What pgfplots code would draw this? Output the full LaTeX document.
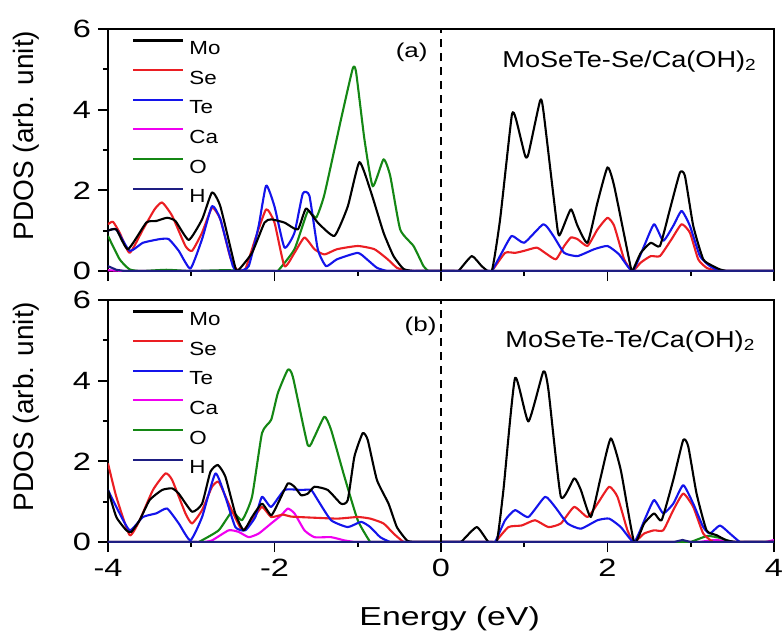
\documentclass[border=0pt]{standalone}
\usepackage{fontspec}
\setmainfont{Liberation Sans}
\newfontfamily\wideA{Liberation Sans}[FakeStretch=1.3]
\newfontfamily\wideB{Liberation Sans}[FakeStretch=1.18]
\usepackage{pgfplots}
\pgfplotsset{compat=1.18}

\definecolor{cMo}{RGB}{0,0,0}
\definecolor{cSe}{RGB}{235,30,35}
\definecolor{cTe}{RGB}{20,20,235}
\definecolor{cCa}{RGB}{240,0,240}
\definecolor{cO}{RGB}{20,135,20}
\definecolor{cH}{RGB}{30,30,130}

\newcommand{\sz}[1]{\fontsize{#1}{#1}\selectfont}

\pgfplotsset{
  pdos/.style={
    scale only axis, width=333pt, height=121pt,
    xmin=-4, xmax=4, ymin=0, ymax=6,
    xtick={-4,-2,0,2,4}, minor xtick={-3,-1,1,3},
    ytick={0,2,4,6}, minor ytick={1,3,5},
    tick pos=left, tick align=outside,
    major tick length=5pt, minor tick length=2.5pt,
    every tick/.style={black, line width=0.9pt},
    axis line style={line width=0.9pt},
    tick label style={font=\wideA\sz{12.5}},
    /pgf/number format/assume math mode=true,
    ylabel={PDOS (arb. unit)},
    ylabel style={at={(axis description cs:-0.122,0.56)}, anchor=center, font=\sz{14}},
    legend style={draw=none, fill=none, inner sep=0pt,
      at={(axis description cs:0.036,1)}, anchor=north west, yshift=-5pt,
      font=\wideB\sz{9.5}, row sep=4.9pt, column sep=2.5pt,
      nodes={inner sep=0pt, text height=6.8pt, text depth=2.4pt}},
    legend cell align=left,
    legend image code/.code={\draw[##1] (0pt,4.8pt) -- (25pt,4.8pt);},
    every axis plot/.append style={line width=1.05pt, line join=round, smooth, tension=0.3},
  },
}

\begin{document}
\begin{tikzpicture}
\useasboundingbox (-54pt,-48.5pt) rectangle (337.5pt,271pt);

% (a) MoSeTe-Se/Ca(OH)2
\begin{axis}[pdos, at={(0pt,135.5pt)}, anchor=south west, xticklabels={}]
\addlegendimage{cMo, line width=1.05pt}\addlegendentry{Mo}
\addlegendimage{cSe, line width=1.05pt}\addlegendentry{Se}
\addlegendimage{cTe, line width=1.05pt}\addlegendentry{Te}
\addlegendimage{cCa, line width=1.05pt}\addlegendentry{Ca}
\addlegendimage{cO, line width=1.05pt}\addlegendentry{O}
\addlegendimage{cH, line width=1.05pt}\addlegendentry{H}

\addplot[cCa, sharp plot, forget plot] coordinates {(-4,0.02) (-3.8,0) (4,0) };
\addplot[cO, forget plot] coordinates {
(-4,0.87)(-3.86,0.29)(-3.74,0.04)(-3.6,0)(-3.3,0.03)(-3.0,0)(-2.6,0.02)(-2.2,0)(-2.0,0)(-1.96,0)
(-1.76,0.54)(-1.6,1.48)(-1.5,1.32)(-1.4,1.9)(-1.2,3.77)(-1.06,5.02)(-1.02,4.93)(-0.92,3.27)
(-0.82,2.1)(-0.69,2.77)(-0.61,2.36)(-0.49,1.03)(-0.33,0.62)(-0.21,0.12)(-0.15,0)(-0.1,0)(0,0)(4,0)};
\addplot[cSe, forget plot] coordinates {
(-4,1.16)(-3.94,1.22)(-3.86,0.95)(-3.74,0.45)(-3.58,1.03)(-3.44,1.53)(-3.35,1.7)(-3.23,1.37)
(-3.07,0.62)(-2.99,0.5)(-2.87,0.95)(-2.75,1.57)(-2.65,1.28)(-2.53,0.33)(-2.45,0.03)(-2.35,0.05)
(-2.23,0.8)(-2.1,1.53)(-2.0,1.2)(-1.88,0.12)(-1.76,0.45)(-1.64,0.83)(-1.52,0.54)(-1.4,0.41)
(-1.25,0.54)(-1.0,0.62)(-0.8,0.54)(-0.64,0.29)(-0.53,0.08)(-0.41,0)(-0.36,0)(0.56,0)(0.61,0)(0.77,0.45)
(0.89,0.45)(1.0,0.5)(1.15,0.58)(1.25,0.45)(1.38,0.29)(1.48,0.62)(1.56,0.83)(1.64,0.79)
(1.76,0.62)(1.88,1.03)(2.0,1.32)(2.08,1.12)(2.2,0.29)(2.3,0)(2.4,0.21)(2.52,0.37)(2.63,0.37)
(2.77,0.79)(2.89,1.16)(2.99,0.95)(3.09,0.29)(3.19,0.08)(3.31,0)(3.36,0)(4,0)};
\addplot[cTe, forget plot] coordinates {
(-4,1.0)(-3.9,1.03)(-3.74,0.5)(-3.58,0.7)(-3.38,0.79)(-3.27,0.79)(-3.15,0.5)(-3.01,0.06)
(-2.87,0.79)(-2.75,1.61)(-2.65,1.28)(-2.5,0.12)(-2.43,0)(-2.31,0.12)(-2.19,1.12)(-2.1,2.12)
(-2.0,1.6)(-1.88,0.58)(-1.76,0.95)(-1.66,1.92)(-1.58,1.86)(-1.48,0.54)(-1.38,0.12)(-1.25,0.29)
(-1.0,0.45)(-0.89,0.29)(-0.77,0.08)(-0.65,0)(-0.6,0)(0.56,0)(0.61,0)(0.73,0.45)(0.85,0.87)(1.0,0.7)(1.23,1.16)
(1.35,0.87)(1.48,0.45)(1.64,0.37)(1.84,0.54)(2.0,0.62)(2.14,0.41)(2.3,0)(2.44,0.62)(2.56,1.16)
(2.67,0.75)(2.79,1.12)(2.89,1.49)(2.99,1.12)(3.11,0.37)(3.23,0.12)(3.35,0)(3.4,0)(4,0)};
\addplot[cMo, forget plot] coordinates {
(-4,1.0)(-3.9,1.03)(-3.76,0.54)(-3.54,1.2)(-3.42,1.24)(-3.29,1.32)(-3.19,1.24)(-3.03,0.77)
(-2.87,1.28)(-2.75,1.95)(-2.65,1.6)(-2.47,0.08)(-2.43,0.03)(-2.27,0.45)(-2.12,1.2)(-2.04,1.28)
(-1.88,1.2)(-1.72,1.03)(-1.62,1.55)(-1.48,1.2)(-1.28,0.87)(-1.12,1.6)(-0.98,2.7)(-0.84,1.95)
(-0.69,0.95)(-0.57,0.37)(-0.45,0.05)(-0.33,0)(-0.28,0)(0.16,0)(0.21,0)(0.37,0.37)(0.49,0.12)(0.61,0)(0.71,1.28)
(0.85,3.85)(0.9,3.77)(1.01,2.86)(1.05,2.9)(1.19,4.22)(1.23,3.97)(1.4,1.03)(1.44,0.95)(1.56,1.53)
(1.64,1.12)(1.76,0.7)(1.88,1.7)(2.0,2.57)(2.08,2.11)(2.28,0.08)(2.3,0)(2.4,0.45)(2.52,0.7)
(2.63,0.62)(2.75,1.53)(2.87,2.44)(2.93,2.36)(3.03,1.12)(3.15,0.29)(3.27,0.12)(3.35,0.04)(3.43,0)(3.48,0)(4,0)};
\addplot[cH, sharp plot, forget plot] coordinates {(-4,0.12)(-3.9,0.03)(-3.8,0)(4,0)};
\addplot[black, sharp plot, line width=0.6pt, dash pattern=on 4pt off 3pt, forget plot] coordinates {(0,0)(0,6)};

\node[anchor=base east, inner sep=0pt, font=\wideA\sz{10}] at (axis cs:-0.156,5.3) {(a)};
\node[anchor=base west, inner sep=0pt, font=\wideB\sz{11.5}] at (axis cs:0.733,5.05) {MoSeTe-Se/Ca(OH)\textsubscript{2}};
\end{axis}

% (b) MoSeTe-Te/Ca(OH)2
\begin{axis}[pdos, at={(0pt,0pt)}, anchor=south west,
  xlabel={Energy (eV)},
  xlabel style={at={(axis description cs:0.513,-0.343)}, anchor=base, font=\wideA\sz{13}}]
\addlegendimage{cMo, line width=1.05pt}\addlegendentry{Mo}
\addlegendimage{cSe, line width=1.05pt}\addlegendentry{Se}
\addlegendimage{cTe, line width=1.05pt}\addlegendentry{Te}
\addlegendimage{cCa, line width=1.05pt}\addlegendentry{Ca}
\addlegendimage{cO, line width=1.05pt}\addlegendentry{O}
\addlegendimage{cH, line width=1.05pt}\addlegendentry{H}

\addplot[cCa, forget plot] coordinates {
(-4,0)(-2.9,0)(-2.85,0)(-2.75,0.04)(-2.55,0.29)(-2.43,0.25)(-2.31,0.12)(-2.19,0.21)(-2.04,0.46)
(-1.92,0.66)(-1.84,0.83)(-1.76,0.71)(-1.64,0.29)(-1.52,0.12)(-1.32,0.12)(-1.16,0.04)(-1.04,0)(-0.99,0)
(3.05,0)(3.1,0)(3.3,0.05)(3.5,0)(3.55,0)(3.85,0)(3.9,0)(4,0.05)};
\addplot[cO, forget plot] coordinates {
(-4,0)(-2.96,0)(-2.91,0)(-2.67,0.29)(-2.51,0.75)(-2.39,0.54)(-2.27,1.12)(-2.15,2.7)(-2.04,3.03)
(-1.96,3.69)(-1.84,4.27)(-1.78,4.1)(-1.6,2.4)(-1.52,2.61)(-1.4,3.11)(-1.32,2.78)(-1.16,1.62)
(-1.0,0.54)(-0.85,0)(-0.8,0)(2.95,0)(3.0,0)(3.2,0.15)(3.35,0.1)(3.5,0)(3.55,0)(4,0)};
\addplot[cSe, forget plot] coordinates {
(-4,1.95)(-3.9,1.12)(-3.74,0.17)(-3.62,0.54)(-3.46,1.29)(-3.31,1.7)(-3.23,1.54)(-3.07,0.71)
(-2.99,0.46)(-2.87,0.79)(-2.75,1.37)(-2.67,1.49)(-2.55,0.95)(-2.39,0.29)(-2.27,0.54)(-2.15,0.87)
(-2.04,0.62)(-1.9,0.68)(-1.8,0.63)(-1.5,0.6)(-1.24,0.58)(-1.0,0.62)(-0.85,0.58)(-0.69,0.46)
(-0.57,0.21)(-0.45,0)(-0.4,0)(0.6,0)(0.65,0)(0.81,0.37)(0.97,0.41)(1.13,0.54)(1.29,0.37)(1.44,0.46)(1.6,0.87)
(1.76,0.62)(1.88,0.95)(2.02,1.37)(2.12,1.12)(2.24,0.29)(2.32,0)(2.44,0.21)(2.56,0.29)(2.67,0.29)
(2.79,0.79)(2.91,1.2)(3.03,0.87)(3.15,0.21)(3.27,0)(3.32,0)(4,0)};
\addplot[cTe, forget plot] coordinates {
(-4,1.29)(-3.9,0.87)(-3.74,0.29)(-3.58,0.62)(-3.42,0.71)(-3.29,0.83)(-3.15,0.46)(-3.01,0.04)
(-2.87,0.62)(-2.71,1.7)(-2.59,1.12)(-2.47,0.37)(-2.35,0.29)(-2.23,0.62)(-2.15,1.12)(-2.04,0.87)
(-1.88,1.29)(-1.68,1.29)(-1.56,1.29)(-1.48,1.04)(-1.32,0.54)(-1.12,0.37)(-0.96,0.5)(-0.85,0.37)
(-0.73,0.12)(-0.61,0)(-0.56,0)(0.6,0)(0.65,0)(0.77,0.54)(0.89,0.79)(1.05,0.62)(1.25,1.12)(1.37,0.87)(1.52,0.46)
(1.68,0.33)(1.88,0.54)(2.02,0.58)(2.16,0.37)(2.32,0)(2.46,0.62)(2.56,1.04)(2.67,0.71)(2.79,0.95)
(2.91,1.41)(3.03,0.95)(3.15,0.37)(3.23,0.21)(3.35,0.41)(3.47,0.21)(3.59,0)(3.64,0)(4,0)};
\addplot[cMo, forget plot] coordinates {
(-4,1.29)(-3.9,0.62)(-3.78,0.29)(-3.72,0.25)(-3.62,0.54)(-3.5,1.04)(-3.35,1.29)(-3.23,1.33)
(-3.15,1.2)(-2.99,0.75)(-2.87,0.95)(-2.77,1.74)(-2.68,1.91)(-2.59,1.62)(-2.47,0.7)(-2.37,0.29)
(-2.27,0.62)(-2.15,0.95)(-2.04,0.66)(-1.96,0.95)(-1.84,1.45)(-1.76,1.37)(-1.68,1.16)(-1.6,1.2)
(-1.52,1.37)(-1.36,1.29)(-1.2,0.95)(-1.12,1.04)(-1.04,2.12)(-0.94,2.7)(-0.88,2.53)(-0.77,1.54)
(-0.63,0.95)(-0.53,0.37)(-0.41,0.04)(-0.33,0)(-0.28,0)(0.2,0)(0.25,0.02)(0.43,0.37)(0.57,0)(0.67,0)(0.75,1.29)
(0.89,4.07)(1.05,2.99)(1.23,4.23)(1.29,3.78)(1.44,1.12)(1.6,1.58)(1.68,1.29)(1.8,0.62)(1.92,1.62)
(2.04,2.57)(2.16,1.78)(2.32,0)(2.44,0.46)(2.56,0.71)(2.65,0.54)(2.79,1.54)(2.91,2.53)(2.97,2.37)
(3.07,1.2)(3.19,0.29)(3.31,0.17)(3.43,0.04)(3.55,0)(3.6,0)(4,0)};
\addplot[cH, sharp plot, forget plot] coordinates {(-4,0)(2.8,0)(2.9,0.05)(3.0,0)(4,0)};
\addplot[black, sharp plot, line width=0.6pt, dash pattern=on 4pt off 3pt, forget plot] coordinates {(0,0)(0,6)};

\node[anchor=base east, inner sep=0pt, font=\wideA\sz{10}] at (axis cs:-0.05,5.23) {(b)};
\node[anchor=base west, inner sep=0pt, font=\wideB\sz{11.5}] at (axis cs:0.77,4.83) {MoSeTe-Te/Ca(OH)\textsubscript{2}};
\end{axis}
\end{tikzpicture}
\end{document}
